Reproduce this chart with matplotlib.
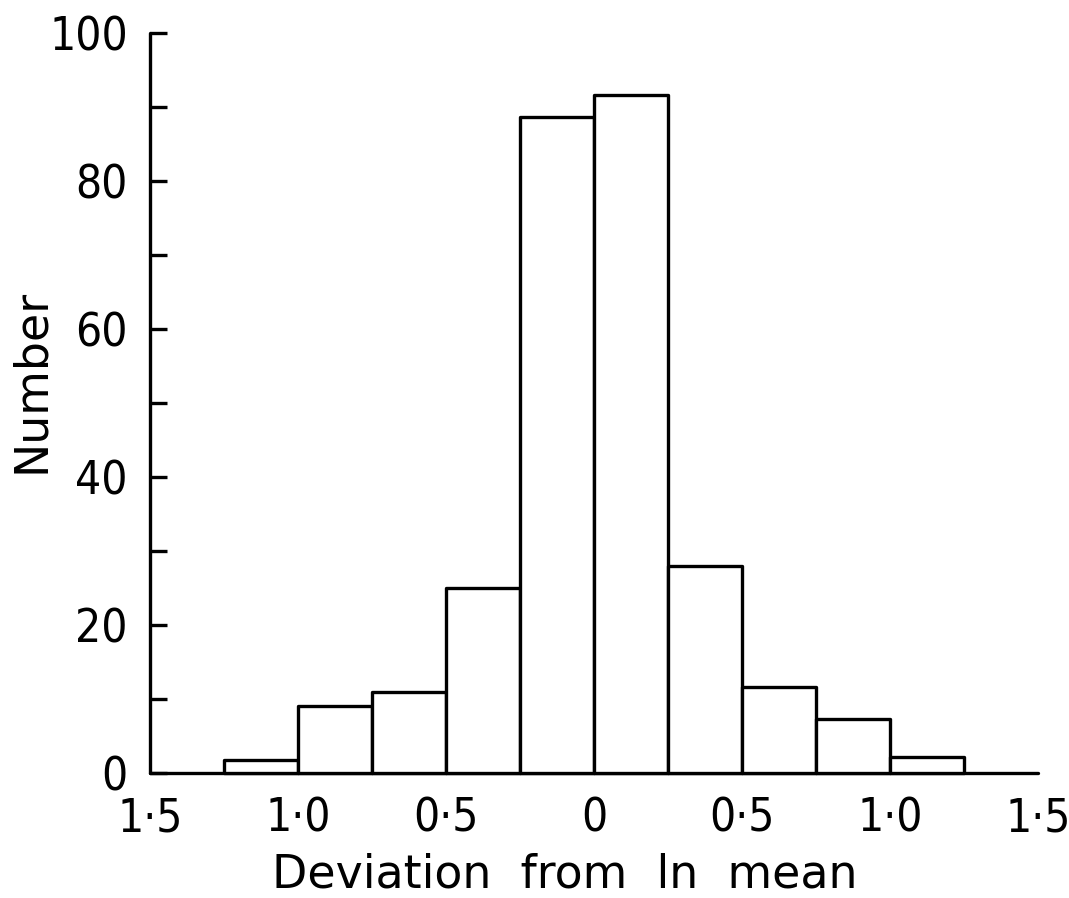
import matplotlib.pyplot as plt
import numpy as np

# Histogram of deviations from the ln mean (bins of 0.25)
bin_edges = [-1.25, -1.0, -0.75, -0.5, -0.25, 0.0, 0.25, 0.5, 0.75, 1.0, 1.25]
counts = [1.8, 9.0, 11.0, 25.0, 88.7, 91.6, 28.0, 11.6, 7.3, 2.1]

# Axis ticks and labels as printed
x_ticks = [-1.5, -1.0, -0.5, 0.0, 0.5, 1.0, 1.5]
x_tick_labels = ['1·5', '1·0', '0·5', '0', '0·5', '1·0', '1·5']
y_major = [0, 20, 40, 60, 80, 100]
y_minor = [10, 30, 50, 70, 90]

plt.rcParams['font.family'] = ['DejaVu Sans']
plt.rcParams['font.stretch'] = 'condensed'  # narrow digits like the print
lw = 2.4

fig = plt.figure(figsize=(10.69, 8.98), dpi=100)
ax = fig.add_axes([150 / 1069, 125 / 898, 888 / 1069, 740 / 898])

lefts = np.array(bin_edges[:-1])
widths = np.diff(bin_edges)
ax.bar(lefts, counts, width=widths, align='edge', facecolor='white',
       edgecolor='black', linewidth=lw, joinstyle='round', clip_on=False, zorder=3)

ax.set_xlim(-1.5, 1.5)
ax.set_ylim(0, 100)

for side in ['top', 'right']:
    ax.spines[side].set_visible(False)
for side in ['left', 'bottom']:
    ax.spines[side].set_linewidth(lw)
    ax.spines[side].set_capstyle('round')

ax.set_yticks(y_major)
ax.set_yticks(y_minor, minor=True)
ax.tick_params(axis='y', which='both', direction='in', length=12, width=lw,
               labelsize=33, pad=16)

ax.set_xticks(x_ticks)
ax.set_xticklabels(x_tick_labels)
ax.set_xticks([1.5], minor=True)
ax.tick_params(axis='x', which='major', length=0, labelsize=33, pad=17)
ax.tick_params(axis='x', which='minor', direction='in', length=11, width=lw)

# axis titles in the normal (wider) width
fig.text(32 / 1069, 1 - 381 / 898, 'Number', rotation=90, ha='center',
         va='center', fontsize=33, fontstretch='normal')
fig.text(565 / 1069, 1 - 875 / 898, 'Deviation  from  ln  mean', ha='center',
         va='center', fontsize=33, fontstretch='normal')

fig.savefig('out.png', dpi=100, facecolor='white')
